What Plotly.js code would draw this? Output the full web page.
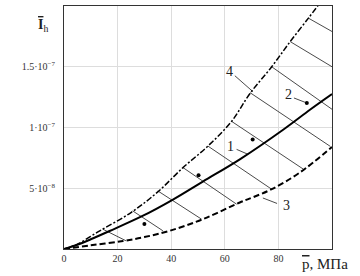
<!DOCTYPE html>
<html><head><meta charset="utf-8">
<script src="https://cdn.plot.ly/plotly-3.0.1.min.js"></script>
<style>html,body{margin:0;padding:0;background:#fff}#c{width:360px;height:276px}</style>
</head><body><div id="c"></div>
<script>
// Curve 1 (solid, mean)
var x1 = [0, 5, 10, 17, 29.3, 40.5, 51.8, 65.6, 81.9, 91.9, 100];
var y1 = [0, 0.35e-8, 0.8e-8, 1.48e-8, 2.72e-8, 4.05e-8, 5.55e-8, 7.38e-8, 9.84e-8, 11.48e-8, 12.75e-8];
// Curve 4 (dash-dot, upper)
var x4 = [0, 5, 13, 25, 35, 44.4, 53.7, 62.5, 69.4, 77.5, 84.4, 91.2, 95];
var y4 = [0, 0.4e-8, 1.45e-8, 3.0e-8, 4.7e-8, 6.7e-8, 8.47e-8, 10.5e-8, 12.8e-8, 15.0e-8, 17.07e-8, 19.0e-8, 20.1e-8];
// Curve 3 (dashed, lower)
var x3 = [0, 10, 22, 30, 39.4, 51.9, 65.6, 70.5, 77.5, 88.1, 100];
var y3 = [0, 0.3e-8, 0.66e-8, 0.98e-8, 1.5e-8, 2.46e-8, 3.83e-8, 4.26e-8, 4.92e-8, 6.31e-8, 8.4e-8];
// Experimental points (2)
var xp = [30, 50.2, 70.4, 90.6];
var yp = [2.05e-8, 6.07e-8, 9.02e-8, 12.02e-8];
// Hatch segments between curves 4 and 3
var hx0 = [91.2, 84.4, 77.5, 69.4, 62.5, 53.7, 44.4, 35.0, 25.6, 14.4];
var hy0 = [19.0e-8, 17.07e-8, 15.0e-8, 12.87e-8, 10.51e-8, 8.47e-8, 6.70e-8, 4.78e-8, 3.14e-8, 1.64e-8];
var hx1 = [100, 100, 100, 99.4, 89.4, 77.5, 64.4, 51.3, 36.9, 23.1];
var hy1 = [17.9e-8, 15.0e-8, 11.5e-8, 8.44e-8, 6.56e-8, 4.92e-8, 3.69e-8, 2.46e-8, 1.50e-8, 0.68e-8];
// Curve labels and their leader lines
var labTxt = ['4', '2', '1', '3'];
var labX = [61.6, 83.8, 62.2, 83.2];
var labY = [14.65e-8, 12.7e-8, 8.45e-8, 3.55e-8];
var lx0 = [63.75, 85.8, 64.4, 74.2];
var ly0 = [14.26e-8, 12.43e-8, 8.2e-8, 4.2e-8];
var lx1 = [70.5, 90.0, 68.7, 79.5];
var ly1 = [12.95e-8, 12.07e-8, 7.79e-8, 3.75e-8];
// Ticks
var xTicks = [0, 20, 40, 60, 80];
var yTicks = [5e-8, 1e-7, 1.5e-7];
var yTickText = ['5\u00b710<sup>\u22128</sup>', '1\u00b710<sup>\u22127</sup>', '1.5\u00b710<sup>\u22127</sup>'];

function segs(a0, b0, a1, b1) {
  var X = [], Y = [];
  for (var i = 0; i < a0.length; i++) { X.push(a0[i], a1[i], null); Y.push(b0[i], b1[i], null); }
  return {x: X, y: Y};
}
var H = segs(hx0, hy0, hx1, hy1);
var L = segs(lx0, ly0, lx1, ly1);

var serif = 'Liberation Serif, Times New Roman, serif';
var traces = [
  {x: H.x, y: H.y, mode: 'lines', line: {color: '#4a4a4a', width: 1}, hoverinfo: 'skip', connectgaps: false},
  {x: L.x, y: L.y, mode: 'lines', line: {color: '#4a4a4a', width: 1}, hoverinfo: 'skip', connectgaps: false},
  {x: x4, y: y4, mode: 'lines', line: {color: '#000', width: 1.5, dash: '6px,2px,2px,2px', shape: 'spline'}},
  {x: x3, y: y3, mode: 'lines', line: {color: '#000', width: 2, dash: '6px,3px', shape: 'spline'}},
  {x: x1, y: y1, mode: 'lines', line: {color: '#000', width: 2, shape: 'spline'}},
  {x: xp, y: yp, mode: 'markers', marker: {color: '#000', size: 4}}
];
var ann = [];
for (var i = 0; i < labTxt.length; i++) {
  ann.push({x: labX[i], y: labY[i], xref: 'x', yref: 'y', text: labTxt[i], showarrow: false,
    font: {family: serif, size: 14, color: '#222'}});
}
ann.push({xref: 'paper', yref: 'paper', x: -0.105, y: 0.965, text: '<span style="text-decoration:overline"><b>I</b></span><sub>h</sub>',
  showarrow: false, font: {family: serif, size: 14, color: '#222'}});
ann.push({xref: 'paper', yref: 'paper', x: 0.88, xanchor: 'left', y: -0.02, yanchor: 'top', text: '<span style="text-decoration:overline">p</span>, МПа',
  showarrow: false, font: {family: serif, size: 15, color: '#222'}});

var layout = {
  width: 360, height: 276,
  margin: {l: 64, r: 28, t: 6, b: 27},
  paper_bgcolor: '#fff', plot_bgcolor: '#fff',
  showlegend: false,
  xaxis: {range: [0, 100], tickvals: xTicks, ticktext: xTicks.map(String), showgrid: true, gridcolor: '#ddd', gridwidth: 1,
    zeroline: false, showline: true, linecolor: '#333', linewidth: 1, mirror: true, ticks: '',
    tickfont: {family: serif, size: 10, color: '#333'}},
  yaxis: {range: [0, 2e-7], tickvals: yTicks, ticktext: yTickText, showgrid: true, gridcolor: '#ddd', gridwidth: 1,
    zeroline: false, showline: true, linecolor: '#333', linewidth: 1, mirror: true, ticks: '', ticklabelstandoff: 6,
    tickfont: {family: serif, size: 10, color: '#333'}},
  annotations: ann
};
Plotly.newPlot('c', traces, layout, {displayModeBar: false, staticPlot: true});
</script></body></html>
